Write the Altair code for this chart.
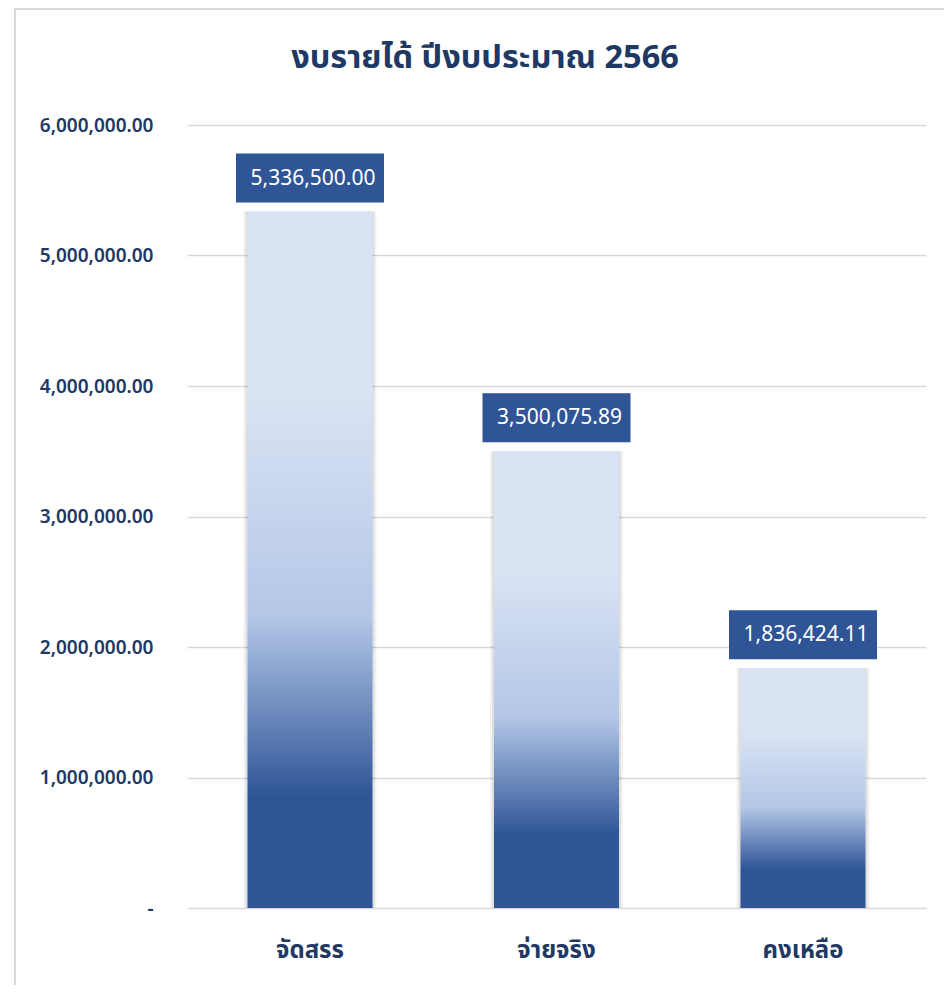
import altair as alt
import pandas as pd

categories = ["จัดสรร", "จ่ายจริง", "คงเหลือ"]
values = [5336500.00, 3500075.89, 1836424.11]
labels = ["5,336,500.00", "3,500,075.89", "1,836,424.11"]
y_ticks = [0, 1000000, 2000000, 3000000, 4000000, 5000000, 6000000]
title_text = "งบรายได้ ปีงบประมาณ 2566"

df = pd.DataFrame({"cat": categories, "value": values, "label": labels})

FONT = "Tahoma, 'Noto Sans', 'Noto Sans Thai', sans-serif"
NAVY = "#203864"
DARK = "#2F5597"

W, H = 739, 783
PL, PT, PR, PB = 179, 117, 18, 77

x_enc = alt.X("cat:N", sort=categories,
              scale=alt.Scale(paddingInner=0.493, paddingOuter=0.2455),
              axis=alt.Axis(title=None, labelAngle=0, ticks=False, domain=False,
                            labelFont=FONT, labelFontSize=24, labelFontWeight="bold",
                            labelColor=NAVY, labelPadding=30))
y_enc = alt.Y("value:Q",
              scale=alt.Scale(domain=[0, 6000000], nice=False, zero=True),
              axis=alt.Axis(title=None, values=y_ticks, ticks=False, domain=False,
                            labelExpr="datum.value == 0 ? '-\u2007\u2007' : format(datum.value, ',.2f')",
                            labelFont=FONT, labelFontSize=19, labelFontWeight=600,
                            labelColor=NAVY, labelPadding=34,
                            grid=True, gridColor="#D9D9D9", gridWidth=1.5))

base = alt.Chart(df).encode(x=x_enc, y=y_enc)

shadow1 = base.mark_bar(size=133, color="#000000", opacity=0.05, y2Offset=4)
shadow2 = base.mark_bar(size=129, color="#000000", opacity=0.08, y2Offset=2)

gradient = alt.Gradient(
    gradient="linear",
    x1=0, y1=1, x2=0, y2=0,
    stops=[
        alt.GradientStop(offset=0.0, color=DARK),
        alt.GradientStop(offset=0.16, color=DARK),
        alt.GradientStop(offset=0.42, color="#B4C7E7"),
        alt.GradientStop(offset=0.74, color="#DAE3F3"),
        alt.GradientStop(offset=1.0, color="#DAE3F3"),
    ],
)
bars = base.mark_bar(size=125, color=gradient)

box = base.mark_point(
    shape="M-1,-0.331L1,-0.331L1,0.331L-1,0.331Z",
    size=148 * 148, filled=True, color=DARK, opacity=1, strokeWidth=0,
    yOffset=-33.5,
)
text = base.mark_text(
    font=FONT, fontSize=21, color="white", baseline="middle", align="center",
    yOffset=-33, dx=3,
).encode(text="label:N")

single = pd.DataFrame({"t": [title_text]})
title_mark = alt.Chart(single).mark_text(
    font=FONT, fontSize=32.5, fontWeight="bold", color=NAVY,
    align="center", baseline="alphabetic",
).encode(x=alt.value(298), y=alt.value(-57), text="t:N")

left_border = alt.Chart(single).mark_rule(color="#D9D9D9", strokeWidth=2, clip=False).encode(
    x=alt.value(-PL + 7), y=alt.value(-PT), y2=alt.value(H + PB))
top_border = alt.Chart(single).mark_rule(color="#D9D9D9", strokeWidth=2, clip=False).encode(
    x=alt.value(-PL + 6), x2=alt.value(W + PR), y=alt.value(-PT + 1))

chart = alt.layer(left_border, top_border, title_mark, shadow1, shadow2, bars, box, text).properties(
    width=W, height=H,
    autosize=alt.AutoSizeParams(type="none"),
    padding={"left": PL, "top": PT, "right": PR, "bottom": PB},
).configure(background="white").configure_view(stroke=None)

chart.save("out.html", embed_options={"renderer": "svg", "actions": False})
